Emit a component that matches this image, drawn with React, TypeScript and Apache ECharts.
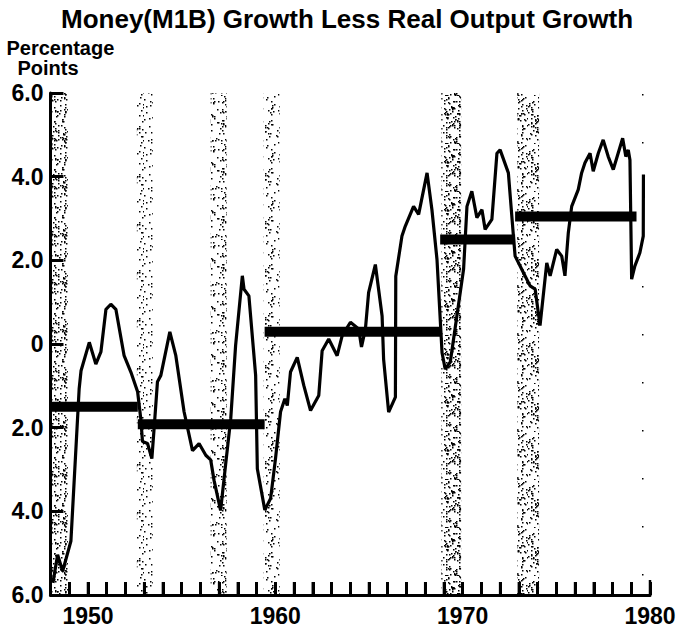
import React, { useEffect, useRef } from "react";
import * as echarts from "echarts";

const lineYears = [
  1948.13, 1948.38, 1948.65, 1949.09, 1949.53, 1949.63, 1950.07, 1950.42, 1950.69, 1950.96,
  1951.22, 1951.49, 1951.93, 1952.29, 1952.65, 1952.82, 1952.91, 1953.18, 1953.41, 1953.53,
  1953.71, 1953.89, 1954.37, 1954.69, 1955.13, 1955.58, 1955.93, 1956.29, 1956.55, 1956.73,
  1957.08, 1957.35, 1957.62, 1957.88, 1958.24, 1958.33, 1958.59, 1958.95, 1959.04, 1959.44,
  1959.75, 1960.01, 1960.28, 1960.51, 1960.64, 1960.81, 1961.17, 1961.52, 1961.88, 1962.32,
  1962.5, 1962.85, 1963.3, 1963.57, 1964.01, 1964.45, 1964.6, 1964.81, 1964.98, 1965.34,
  1965.7, 1965.78, 1966.05, 1966.41, 1966.43, 1966.76, 1966.94, 1967.38, 1967.65, 1968.1,
  1968.36, 1968.63, 1968.9, 1969.07, 1969.34, 1970.05, 1970.23, 1970.49, 1970.76, 1971.03,
  1971.2, 1971.56, 1971.83, 1972.0, 1972.44, 1972.71, 1972.8, 1973.24, 1973.6, 1973.87,
  1974.13, 1974.49, 1974.67, 1975.02, 1975.29, 1975.46, 1975.64, 1975.82, 1976.17, 1976.35,
  1976.53, 1976.8, 1976.97, 1977.24, 1977.5, 1977.77, 1978.04, 1978.3, 1978.54, 1978.71,
  1978.84, 1978.93, 1979.02, 1979.19, 1979.46, 1979.64, 1979.65,
];

const lineValues = [
  -5.71, -5.04, -5.43, -4.71, -1.07, -0.64, 0.04, -0.48, -0.19, 0.83,
  0.95, 0.83, -0.28, -0.67, -1.14, -1.79, -2.33, -2.38, -2.74, -2.02,
  -0.9, -0.75, 0.29, -0.28, -1.62, -2.55, -2.38, -2.66, -2.77, -3.26,
  -3.98, -2.87, -1.79, -0.04, 1.63, 1.31, 1.15, -0.75, -2.98, -3.97,
  -3.69, -2.74, -1.62, -1.31, -1.47, -0.67, -0.32, -0.99, -1.59, -1.23,
  -0.16, 0.12, -0.28, 0.2, 0.52, 0.36, -0.07, 0.36, 1.23, 1.9,
  0.67, -0.36, -1.63, -1.27, 1.62, 2.58, 2.82, 3.29, 3.1, 4.09,
  3.21, 2.02, -0.21, -0.6, -0.43, 1.79, 3.29, 3.65, 3.02, 3.21,
  2.74, 2.98, 4.56, 4.64, 4.09, 2.58, 2.1, 1.71, 1.39, 1.31,
  0.44, 1.94, 1.63, 2.26, 2.1, 1.63, 2.66, 3.29, 3.69, 4.09,
  4.33, 4.56, 4.13, 4.56, 4.88, 4.48, 4.17, 4.56, 4.92, 4.48,
  4.64, 4.4, 1.55, 1.86, 2.18, 2.58, 4.05,
];

// Period averages (thick horizontal bars)
const avgStart = [1948.0, 1952.66, 1959.43, 1968.8, 1972.8];
const avgEnd = [1952.66, 1959.43, 1968.8, 1972.8, 1979.28];
const avgValue = [-1.5, -1.92, 0.29, 2.5, 3.05];

// Shaded (stippled) recession periods
const bandStart = [1948.0, 1952.61, 1956.55, 1959.37, 1968.86, 1972.91, 1979.42];
const bandEnd = [1948.93, 1953.46, 1957.4, 1960.23, 1969.92, 1974.08, 1979.95];
const bandDensity = [240, 95, 140, 105, 280, 210, 12];

const yTicks = [-6, -4, -2, 0, 2, 4, 6];
const xMin = 1948;
const xMax = 1980;
const xLabelYears = [1950, 1960, 1970, 1980];

const FONT = "'Liberation Sans', Arial, Helvetica, sans-serif";

function stipple(count: number, seed: number) {
  const size = 48;
  const c = document.createElement("canvas");
  c.width = size;
  c.height = size;
  const ctx = c.getContext("2d")!;
  ctx.fillStyle = "#000";
  let s = seed;
  const next = () => {
    s = (s * 16807) % 2147483647;
    return s;
  };
  for (let i = 0; i < count; i++) {
    const x = next() % size;
    const y = next() % size;
    ctx.fillRect(x, y, 1.5, 1.5);
  }
  return { image: c, repeat: "repeat", imageWidth: size, imageHeight: size };
}

export default function App() {
  const ref = useRef<HTMLDivElement>(null);
  useEffect(() => {
    if (!ref.current) return;
    const chart = echarts.init(ref.current, undefined, { renderer: "svg" });

    const lineData = lineYears.map((y, i) => [y, lineValues[i]]);
    const bands = bandStart.map((s, i) => [
      { xAxis: s, itemStyle: { color: stipple(bandDensity[i], 1234 + i * 977) } },
      { xAxis: bandEnd[i] },
    ]);
    const avgSeries = avgStart.map((s, i) => ({
      type: "line",
      data: [
        [s, avgValue[i]],
        [avgEnd[i], avgValue[i]],
      ],
      symbol: "none",
      silent: true,
      z: 3,
      lineStyle: { color: "#000", width: 10, cap: "butt" },
    }));

    const labelStyle = {
      color: "#000",
      fontSize: 23,
      fontWeight: "bold",
      fontFamily: FONT,
    };

    const textStyle = {
      fontWeight: "bold",
      fontFamily: FONT,
      fill: "#000",
      verticalAlign: "top",
    };

    const textGraphics = [
      {
        id: "title",
        type: "text",
        x: 347,
        y: 6,
        style: { ...textStyle, text: "Money(M1B) Growth Less Real Output Growth", fontSize: 26, align: "center" },
      },
      {
        id: "unit1",
        type: "text",
        x: 6.5,
        y: 38,
        style: { ...textStyle, text: "Percentage", fontSize: 20, align: "left" },
      },
      {
        id: "unit2",
        type: "text",
        x: 17.5,
        y: 58,
        style: { ...textStyle, text: "Points", fontSize: 20, align: "left" },
      },
    ];

    chart.setOption({
      animation: false,
      backgroundColor: "#fff",
      grid: { left: 50.5, right: 32, top: 93, bottom: 30 },
      xAxis: {
        type: "value",
        min: xMin,
        max: xMax,
        interval: 1,
        axisLine: { show: true, onZero: false, lineStyle: { color: "#000", width: 3 } },
        axisTick: { show: true, inside: true, length: 13, lineStyle: { color: "#000", width: 3 } },
        axisLabel: {
          ...labelStyle,
          margin: 9,
          formatter: (v: number) => (xLabelYears.includes(Math.round(v)) ? String(Math.round(v)) : ""),
        },
        splitLine: { show: false },
      },
      yAxis: {
        type: "value",
        min: yTicks[0],
        max: yTicks[yTicks.length - 1],
        interval: 2,
        axisLine: { show: true, onZero: false, lineStyle: { color: "#000", width: 3 } },
        axisTick: { show: true, inside: true, length: 13, lineStyle: { color: "#000", width: 3 } },
        axisLabel: {
          ...labelStyle,
          margin: 7,
          formatter: (v: number) => (v === 0 ? "0" : Math.abs(v).toFixed(1)),
        },
        splitLine: { show: false },
      },
      graphic: textGraphics,
      series: [
        {
          type: "line",
          data: lineData,
          symbol: "none",
          z: 4,
          lineStyle: { color: "#000", width: 3.2 },
          markArea: {
            silent: true,
            label: { show: false },
            data: bands,
          },
        },
        ...avgSeries,
      ],
    });

    // yearly tick marks on the bottom axis, placed with the chart's own scale, in a top layer
    const tickGraphics = [];
    for (let yr = xMin + 1; yr <= xMax; yr++) {
      const p = chart.convertToPixel({ gridIndex: 0 }, [yr, yTicks[0]]) as number[];
      const len = yr === xMax ? 15 : 13;
      tickGraphics.push({
        id: "tick" + yr,
        type: "rect",
        zlevel: 5,
        z: 100,
        silent: true,
        shape: { x: p[0] - 1.25, y: p[1] - len, width: 2.5, height: len },
        style: { fill: "#000" },
      });
    }
    chart.setOption({ graphic: [...textGraphics, ...tickGraphics] });

    return () => chart.dispose();
  }, []);
  return (
    <div
      ref={ref}
      style={{ position: "fixed", left: 0, top: 0, width: 682, height: 627, background: "#fff" }}
    />
  );
}
